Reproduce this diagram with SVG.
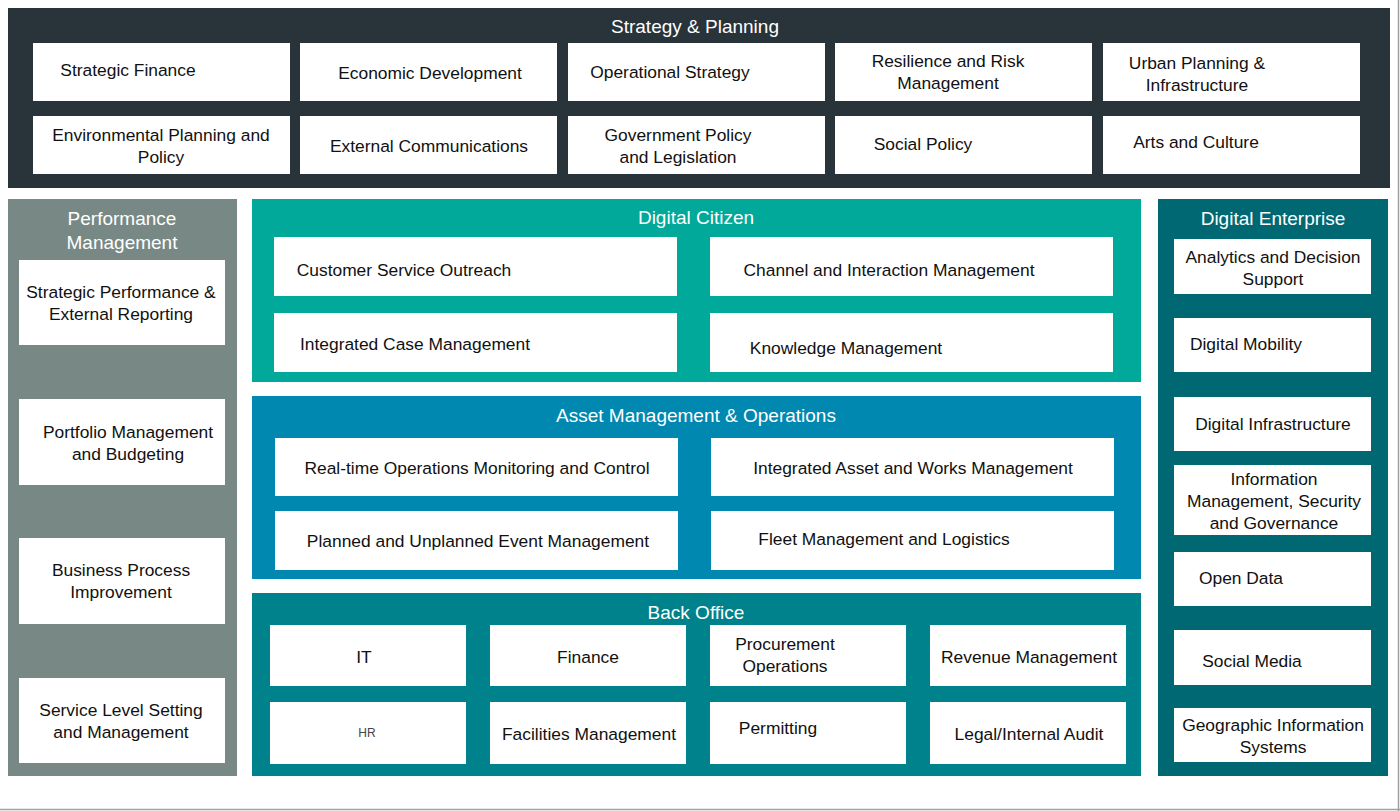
<svg xmlns="http://www.w3.org/2000/svg" width="1400" height="811" viewBox="0 0 1400 811">
<style>
.b{fill:#ffffff}
.t{font-family:"Liberation Sans",Arial,sans-serif;font-size:17.4px;fill:#111;text-anchor:middle;dominant-baseline:central}
.h{font-family:"Liberation Sans",Arial,sans-serif;font-size:19px;fill:#ffffff;text-anchor:middle;dominant-baseline:central}
</style>
<rect x="0" y="0" width="1400" height="811" fill="#ffffff"/>
<line x1="0" y1="809.5" x2="1400" y2="809.5" stroke="#a0a0a0" stroke-width="1.5"/>
<line x1="1398.5" y1="0" x2="1398.5" y2="811" stroke="#a0a0a0" stroke-width="1.5"/>

<g id="strategy">
<rect x="8" y="8" width="1382" height="180" fill="#29333a"/>
<text class="h" x="695" y="26">Strategy &amp; Planning</text>
</g>
<g id="sp1"><rect class="b" x="33" y="43" width="257" height="58"/><text class="t" x="128" y="70">Strategic Finance</text></g>
<g id="sp2"><rect class="b" x="300" y="43" width="257" height="58"/><text class="t" x="430" y="73">Economic Development</text></g>
<g id="sp3"><rect class="b" x="568" y="43" width="257" height="58"/><text class="t" x="670" y="72">Operational Strategy</text></g>
<g id="sp4"><rect class="b" x="835" y="43" width="257" height="58"/><text class="t" x="948" y="61">Resilience and Risk</text><text class="t" x="948" y="83">Management</text></g>
<g id="sp5"><rect class="b" x="1103" y="43" width="257" height="58"/><text class="t" x="1197" y="63">Urban Planning &amp;</text><text class="t" x="1197" y="85">Infrastructure</text></g>
<g id="sp6"><rect class="b" x="33" y="116" width="257" height="58"/><text class="t" x="161" y="135">Environmental Planning and</text><text class="t" x="161" y="157">Policy</text></g>
<g id="sp7"><rect class="b" x="300" y="116" width="257" height="58"/><text class="t" x="429" y="146">External Communications</text></g>
<g id="sp8"><rect class="b" x="568" y="116" width="257" height="58"/><text class="t" x="678" y="135">Government Policy</text><text class="t" x="678" y="157">and Legislation</text></g>
<g id="sp9"><rect class="b" x="835" y="116" width="257" height="58"/><text class="t" x="923" y="144">Social Policy</text></g>
<g id="sp10"><rect class="b" x="1103" y="116" width="257" height="58"/><text class="t" x="1196" y="142">Arts and Culture</text></g>

<g id="performance">
<rect x="8" y="199" width="229" height="577" fill="#788985"/>
<text class="h" x="122" y="218">Performance</text>
<text class="h" x="122" y="242">Management</text>
</g>
<g id="pm1"><rect class="b" x="19" y="260" width="206" height="85"/><text class="t" x="121" y="292">Strategic Performance &amp;</text><text class="t" x="121" y="314">External Reporting</text></g>
<g id="pm2"><rect class="b" x="19" y="399" width="206" height="86"/><text class="t" x="128" y="432">Portfolio Management</text><text class="t" x="128" y="454">and Budgeting</text></g>
<g id="pm3"><rect class="b" x="19" y="538" width="206" height="86"/><text class="t" x="121" y="570">Business Process</text><text class="t" x="121" y="592">Improvement</text></g>
<g id="pm4"><rect class="b" x="19" y="678" width="206" height="85"/><text class="t" x="121" y="710">Service Level Setting</text><text class="t" x="121" y="732">and Management</text></g>

<g id="citizen">
<rect x="252" y="199" width="889" height="183" fill="#00a99a"/>
<text class="h" x="696" y="217">Digital Citizen</text>
</g>
<g id="dc1"><rect class="b" x="274" y="237" width="403" height="59"/><text class="t" x="404" y="270">Customer Service Outreach</text></g>
<g id="dc2"><rect class="b" x="710" y="237" width="403" height="59"/><text class="t" x="889" y="270">Channel and Interaction Management</text></g>
<g id="dc3"><rect class="b" x="274" y="313" width="403" height="59"/><text class="t" x="415" y="344">Integrated Case Management</text></g>
<g id="dc4"><rect class="b" x="710" y="313" width="403" height="59"/><text class="t" x="846" y="348">Knowledge Management</text></g>

<g id="asset">
<rect x="252" y="396" width="889" height="183" fill="#0088b0"/>
<text class="h" x="696" y="415">Asset Management &amp; Operations</text>
</g>
<g id="am1"><rect class="b" x="275" y="438" width="403" height="58"/><text class="t" x="477" y="468">Real-time Operations Monitoring and Control</text></g>
<g id="am2"><rect class="b" x="711" y="438" width="403" height="58"/><text class="t" x="913" y="468">Integrated Asset and Works Management</text></g>
<g id="am3"><rect class="b" x="275" y="511" width="403" height="59"/><text class="t" x="478" y="541">Planned and Unplanned Event Management</text></g>
<g id="am4"><rect class="b" x="711" y="511" width="403" height="59"/><text class="t" x="884" y="539">Fleet Management and Logistics</text></g>

<g id="backoffice">
<rect x="252" y="593" width="889" height="183" fill="#00828c"/>
<text class="h" x="696" y="612">Back Office</text>
</g>
<g id="bo1"><rect class="b" x="270" y="625" width="196" height="61"/><text class="t" x="364" y="657">IT</text></g>
<g id="bo2"><rect class="b" x="490" y="625" width="196" height="61"/><text class="t" x="588" y="657">Finance</text></g>
<g id="bo3"><rect class="b" x="710" y="625" width="196" height="61"/><text class="t" x="785" y="644">Procurement</text><text class="t" x="785" y="666">Operations</text></g>
<g id="bo4"><rect class="b" x="930" y="625" width="196" height="61"/><text class="t" x="1029" y="657">Revenue Management</text></g>
<g id="bo5"><rect class="b" x="270" y="702" width="196" height="62"/><text class="t" x="367" y="733" style="font-size:12px;fill:#444">HR</text></g>
<g id="bo6"><rect class="b" x="490" y="702" width="196" height="62"/><text class="t" x="589" y="734">Facilities Management</text></g>
<g id="bo7"><rect class="b" x="710" y="702" width="196" height="62"/><text class="t" x="778" y="728">Permitting</text></g>
<g id="bo8"><rect class="b" x="930" y="702" width="196" height="62"/><text class="t" x="1029" y="734">Legal/Internal Audit</text></g>

<g id="enterprise">
<rect x="1158" y="199" width="230" height="577" fill="#006872"/>
<text class="h" x="1273" y="218">Digital Enterprise</text>
</g>
<g id="de1"><rect class="b" x="1174" y="239" width="197" height="55"/><text class="t" x="1273" y="257">Analytics and Decision</text><text class="t" x="1273" y="279">Support</text></g>
<g id="de2"><rect class="b" x="1174" y="318" width="197" height="54"/><text class="t" x="1246" y="344">Digital Mobility</text></g>
<g id="de3"><rect class="b" x="1174" y="397" width="197" height="54"/><text class="t" x="1273" y="424">Digital Infrastructure</text></g>
<g id="de4"><rect class="b" x="1174" y="465" width="197" height="70"/><text class="t" x="1274" y="479">Information</text><text class="t" x="1274" y="501">Management, Security</text><text class="t" x="1274" y="523">and Governance</text></g>
<g id="de5"><rect class="b" x="1174" y="552" width="197" height="54"/><text class="t" x="1241" y="578">Open Data</text></g>
<g id="de6"><rect class="b" x="1174" y="630" width="197" height="55"/><text class="t" x="1252" y="661">Social Media</text></g>
<g id="de7"><rect class="b" x="1174" y="708" width="197" height="54"/><text class="t" x="1273" y="725">Geographic Information</text><text class="t" x="1273" y="747">Systems</text></g>

<g id="connectors"></g>
</svg>
